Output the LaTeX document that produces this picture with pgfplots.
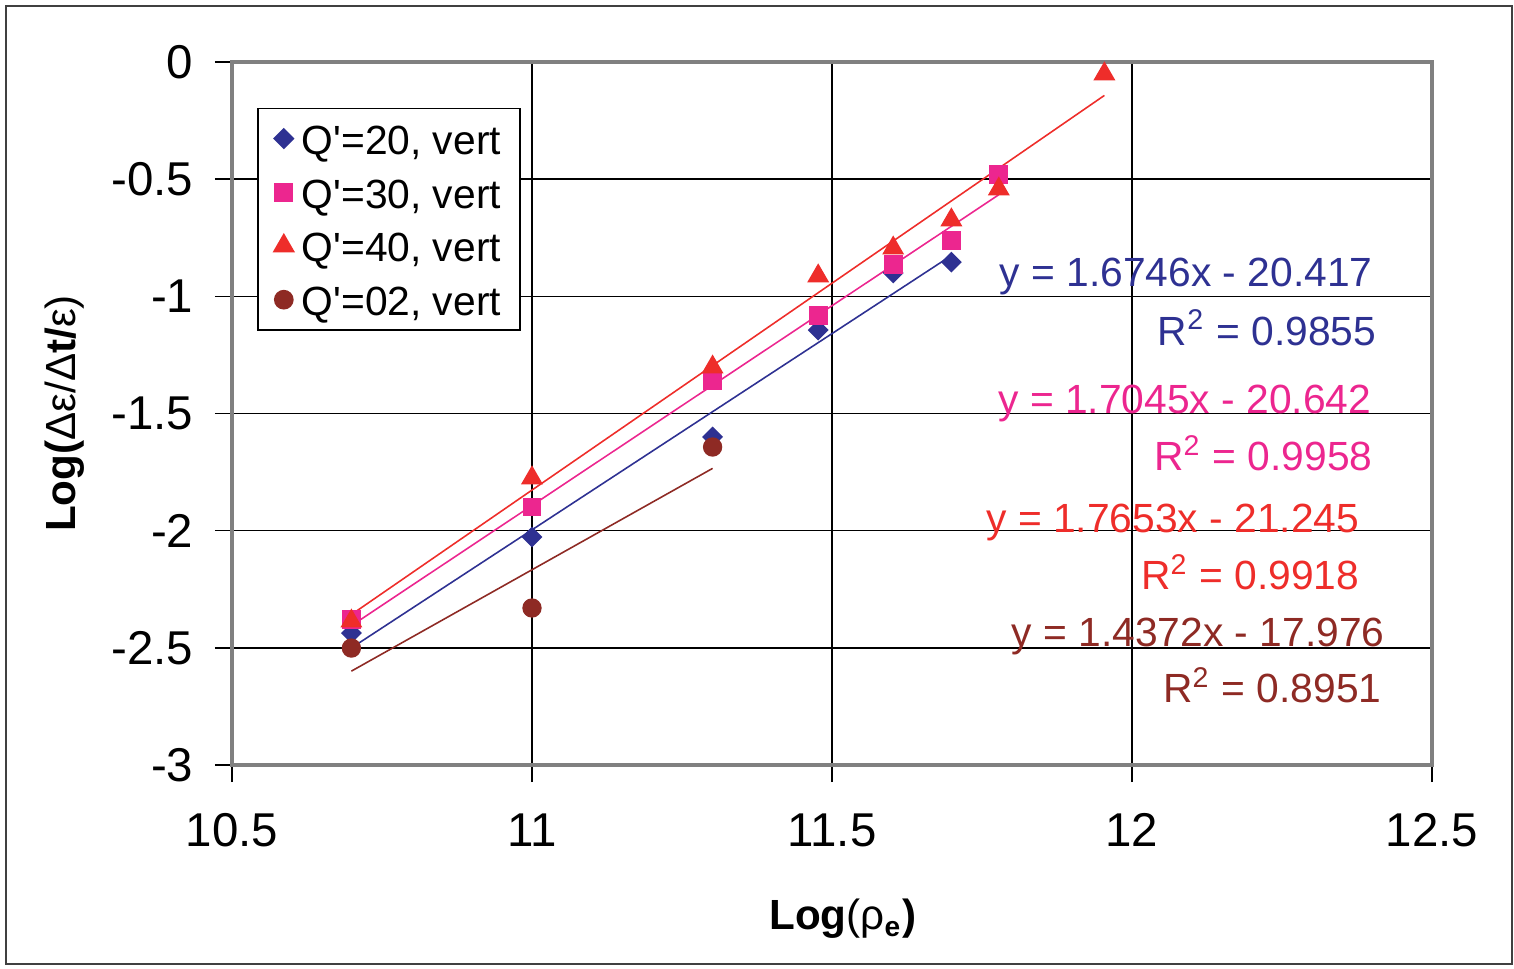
\documentclass[border=0pt]{standalone}
\usepackage{fontspec}
\setmainfont{Liberation Sans}
\usepackage{pgfplots}
\pgfplotsset{compat=1.18}
\definecolor{cblue}{HTML}{2E3192}
\definecolor{cpink}{HTML}{EC268F}
\definecolor{cred}{HTML}{EE2D2A}
\definecolor{cbrown}{HTML}{8E2A24}
\newcommand{\eqfont}{\fontsize{11.6}{14}\selectfont}
\begin{document}
\begin{tikzpicture}
\useasboundingbox (0,0) rectangle (15.14cm,9.69cm);
\draw[black!75, line width=0.6pt] (0.06cm,0.05cm) rectangle (15.12cm,9.63cm);
\begin{axis}[
  at={(2.32cm,2.04cm)}, anchor=south west,
  scale only axis, width=12cm, height=7.03cm,
  xmin=10.5, xmax=12.5, ymin=-3, ymax=0,
  xtick={10.5,11,11.5,12,12.5}, xticklabels={10.5,11,11.5,12,12.5},
  ytick={-3,-2.5,-2,-1.5,-1,-0.5,0}, yticklabels={-3,-2.5,-2,-1.5,-1,-0.5,0},
  grid=major, major grid style={black, line width=0.45pt},
  axis line style={draw=gray, line width=1pt},
  tick align=outside, tick pos=left, major tick length=1.7mm,
  tick style={black, line width=0.45pt},
  ticklabel style={font=\fontsize{13.5}{16}\selectfont},
  yticklabel style={anchor=east, inner sep=0pt, xshift=-2.1mm},
  xticklabel style={anchor=north, inner sep=0pt, yshift=-3.1mm},
  xlabel={\textbf{Log}(ρ\textsubscript{\textbf{e}}\textbf{)}},
  ylabel={\textbf{Log(}Δε/Δ\textbf{t/}ε)},
  label style={font=\fontsize{12}{14}\selectfont},
  xlabel style={at={(axis description cs:0.509,-0.19)}, anchor=north, inner sep=0pt},
  ylabel style={at={(axis description cs:-0.1225,0.5)}, anchor=south, inner sep=0pt, rotate=0},
  legend style={at={(0.021,0.935)}, anchor=north west, draw=black, line width=0.5pt,
    font=\eqfont, row sep=1.57mm, inner xsep=1.6mm, inner ysep=1.1mm,
    nodes={inner sep=0.3mm, text height=3.2mm, text depth=0mm}},
  legend cell align=left,
  legend image code/.code={\draw[mark repeat=2,mark phase=2,#1] plot coordinates {(0cm,0cm)(0.15cm,0cm)(0.3cm,0cm)}; \path (0.29cm,0cm);},
]
\addplot[only marks, mark=square*, mark size=1.9pt, mark options={rotate=45, fill=cblue, draw=cblue}] coordinates {
 (10.699,-2.437) (11.0,-2.027) (11.301,-1.600) (11.477,-1.144) (11.602,-0.900) (11.699,-0.854)};
\addlegendentry{Q\textquotesingle=20, vert}
\addplot[only marks, mark=square*, mark size=2.5pt, mark options={fill=cpink, draw=cpink}] coordinates {
 (10.699,-2.377) (11.0,-1.899) (11.301,-1.361) (11.477,-1.080) (11.602,-0.866) (11.699,-0.760) (11.778,-0.478)};
\addlegendentry{Q\textquotesingle=30, vert}
\addplot[only marks, mark=triangle*, mark size=3.2pt, mark options={fill=cred, draw=cred}] coordinates {
 (10.699,-2.386) (11.0,-1.775) (11.301,-1.302) (11.477,-0.913) (11.602,-0.794) (11.699,-0.674) (11.778,-0.542) (11.954,-0.051)};
\addlegendentry{Q\textquotesingle=40, vert}
\addplot[only marks, mark=*, mark size=2.55pt, mark options={fill=cbrown, draw=cbrown}] coordinates {
 (10.699,-2.501) (11.0,-2.330) (11.301,-1.643)};
\addlegendentry{Q\textquotesingle=02, vert}
% linear trendlines
\addplot[cblue, line width=0.45pt, forget plot] coordinates {(10.699,-2.5005) (11.699,-0.8258)};
\addplot[cpink, line width=0.45pt, forget plot] coordinates {(10.699,-2.4055) (11.778,-0.5664)};
\addplot[cred, line width=0.45pt, forget plot] coordinates {(10.699,-2.3581) (11.954,-0.1426)};
\addplot[cbrown, line width=0.45pt, forget plot] coordinates {(10.699,-2.5994) (11.301,-1.7342)};
% equations
\node[anchor=base east, inner sep=0pt, text=cblue, font=\eqfont] at (axis cs:12.402,-0.956) {y = 1.6746x - 20.417};
\node[anchor=base east, inner sep=0pt, text=cblue, font=\eqfont] at (axis cs:12.408,-1.208) {R\textsuperscript{2} = 0.9855};
\node[anchor=base east, inner sep=0pt, text=cpink, font=\eqfont] at (axis cs:12.400,-1.498) {y = 1.7045x - 20.642};
\node[anchor=base east, inner sep=0pt, text=cpink, font=\eqfont] at (axis cs:12.402,-1.745) {R\textsuperscript{2} = 0.9958};
\node[anchor=base east, inner sep=0pt, text=cred, font=\eqfont] at (axis cs:12.380,-2.006) {y = 1.7653x - 21.245};
\node[anchor=base east, inner sep=0pt, text=cred, font=\eqfont] at (axis cs:12.380,-2.253) {R\textsuperscript{2} = 0.9918};
\node[anchor=base east, inner sep=0pt, text=cbrown, font=\eqfont] at (axis cs:12.422,-2.496) {y = 1.4372x - 17.976};
\node[anchor=base east, inner sep=0pt, text=cbrown, font=\eqfont] at (axis cs:12.417,-2.735) {R\textsuperscript{2} = 0.8951};
\end{axis}
\end{tikzpicture}
\end{document}
